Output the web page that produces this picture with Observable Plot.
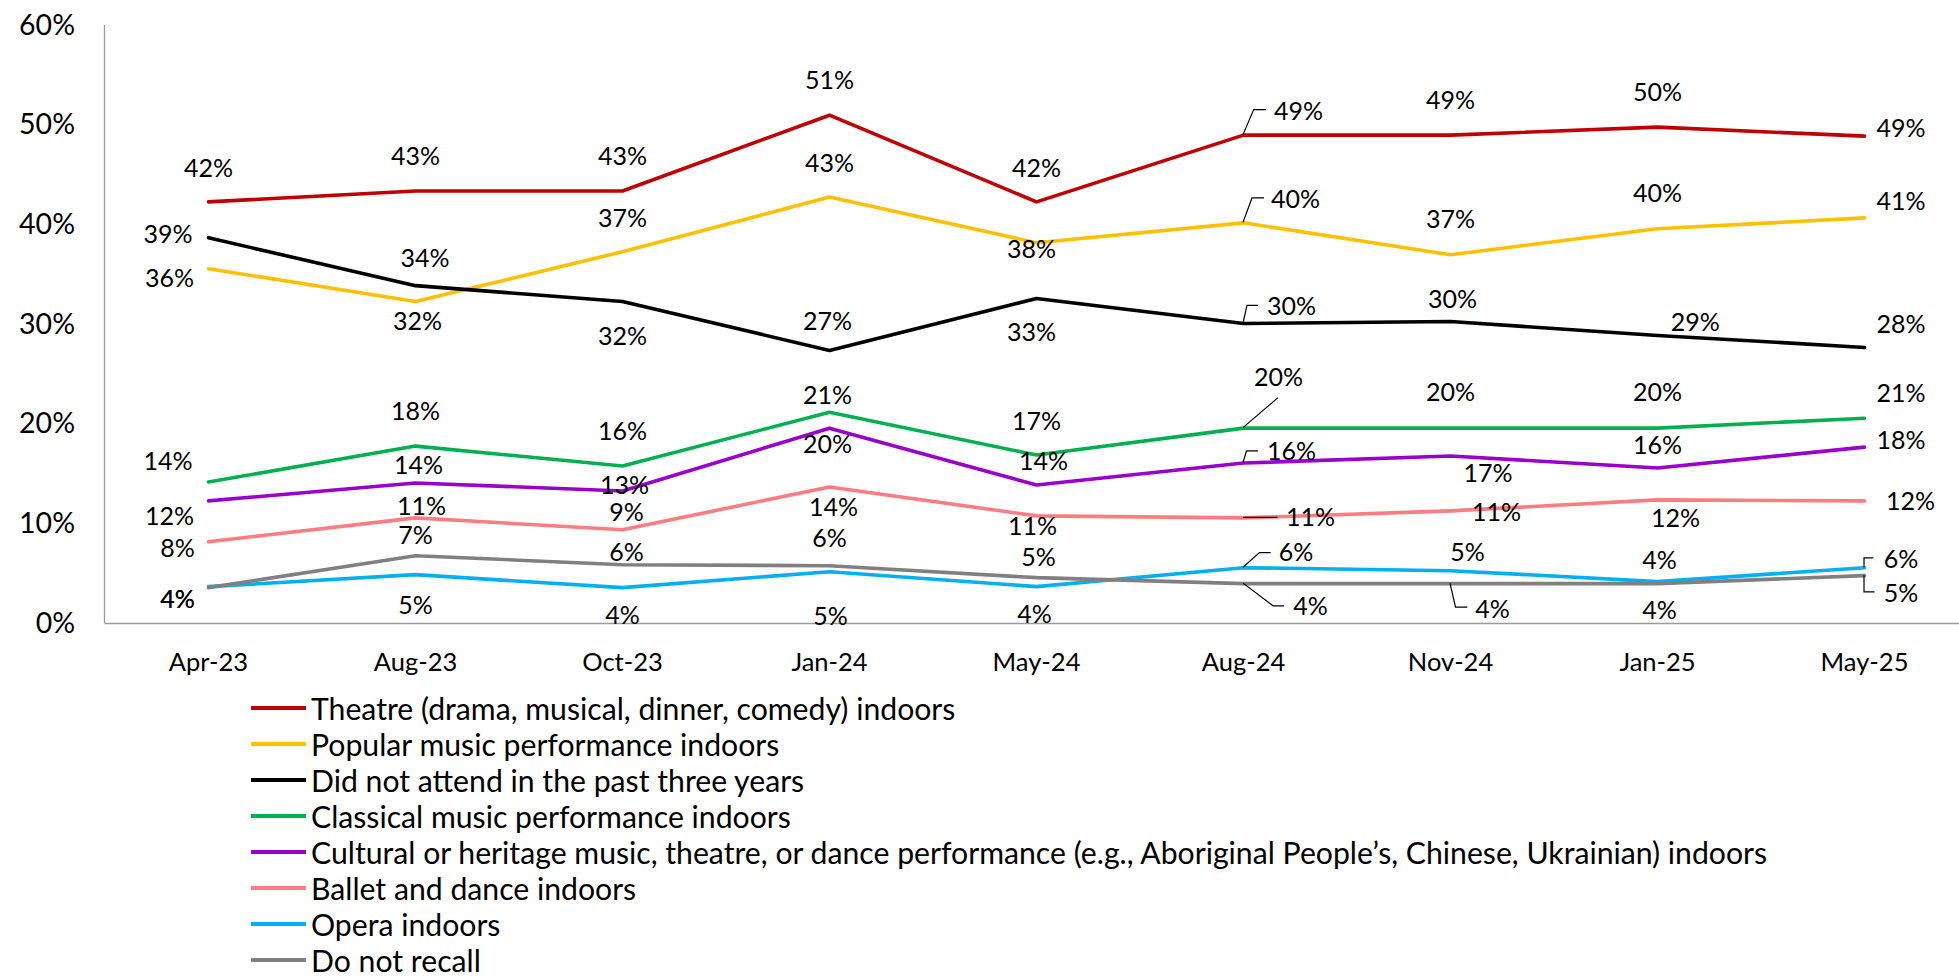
<!DOCTYPE html>
<html><head><meta charset="utf-8">
<script src="https://cdn.jsdelivr.net/npm/d3@7"></script>
<script src="https://cdn.jsdelivr.net/npm/@observablehq/plot@0.6"></script>
<style>
body{margin:0;background:#fff;font-family:Lato,sans-serif;}
#legend{padding-left:251px;}
.row{display:flex;align-items:center;height:36px;font-size:30.2px;color:#000;white-space:nowrap;}
.sw{width:55px;height:3.6px;margin-right:5px;flex:none;}
</style></head><body>
<div id="chart"></div><div id="legend"></div>
<script>
const categories = ["Apr-23","Aug-23","Oct-23","Jan-24","May-24","Aug-24","Nov-24","Jan-25","May-25"];
const seriesNames = [
  "Theatre (drama, musical, dinner, comedy) indoors",
  "Popular music performance indoors",
  "Did not attend in the past three years",
  "Classical music performance indoors",
  "Cultural or heritage music, theatre, or dance performance (e.g., Aboriginal People\u2019s, Chinese, Ukrainian) indoors",
  "Ballet and dance indoors",
  "Opera indoors",
  "Do not recall"
];
const colors = ["#C00000","#FFC000","#000000","#00B050","#9900CC","#FF7C80","#00B0F0","#808080"];
const yTicks = [0,10,20,30,40,50,60];

const theatre   = [42.3,43.4,43.4,51.0,42.3,49.0,49.0,49.8,48.9];
const popular   = [35.6,32.3,37.3,42.8,38.2,40.2,37.0,39.6,40.7];
const didNot    = [38.7,33.9,32.3,27.4,32.6,30.1,30.3,28.9,27.7];
const classical = [14.2,17.8,15.8,21.2,16.9,19.6,19.6,19.6,20.6];
const cultural  = [12.3,14.1,13.3,19.6,13.9,16.1,16.8,15.6,17.7];
const ballet    = [8.2,10.6,9.4,13.7,10.8,10.6,11.3,12.4,12.3];
const opera     = [3.7,4.9,3.6,5.2,3.7,5.6,5.3,4.2,5.6];
const noRecall  = [3.6,6.8,5.9,5.8,4.6,4.0,4.0,4.0,4.8];
const series = [theatre,popular,didNot,classical,cultural,ballet,opera,noRecall];

// label placement offsets (pixels) relative to each point
const labelOffsets = [
  [[0,-33],[0,-34],[0,-34],[0,-34],[0,-33],[55,-23],[0,-34],[0,-34],[36.5,-7]],
  [[-39,10],[2,20],[0,-33],[0,-33],[-5,7],[52,-23],[0,-35],[0,-35],[36.5,-16]],
  [[-40.6,-3],[9.6,-27],[0,35],[-2,-28],[-5,34],[48,-17],[2,-22],[37.7,-12],[36.5,-22]],
  [[-40.6,-20],[0,-34],[0,-34],[-2,-16],[0,-33],[35,-50],[0,-35],[0,-35],[36.5,-24]],
  [[-39,16],[3,-17],[2,-5],[-2,17],[7,-23],[48,-11],[37.5,18],[0,-22],[36.5,-6]],
  [[-31,7],[6,-11],[4,-17],[4,21],[-4,11],[67,0],[46,2],[18,19],[46,1]],
  [[-31,13],[0,31],[0,28],[1,45],[-2,28],[52.6,-15],[17,-18],[2,-21],[36.5,-8]],
  [[-31,12],[0,-20],[4,-12],[0,-27],[2,-20],[67,23],[42,26],[2,27],[36.5,18]]
];
// leader lines: series index, category index, pixel path relative to point
const leaders = [
  {s:0,i:5,path:[[0,0],[10.7,-25],[23,-25]]},
  {s:1,i:5,path:[[0,0],[9,-24.4],[21,-24.4]]},
  {s:2,i:5,path:[[0,0],[4,-17.7],[15,-17.7]]},
  {s:3,i:5,path:[[0,0],[35,-30]]},
  {s:4,i:5,path:[[0,0],[3.5,-11.6],[15,-11.6]]},
  {s:5,i:5,path:[[0,0],[34.4,0]]},
  {s:6,i:5,path:[[0,0],[16.5,-14.6],[27.6,-14.6]]},
  {s:7,i:5,path:[[0,0],[30,22.7],[41,22.7]]},
  {s:7,i:6,path:[[0,0],[5.5,24],[17.3,24]]},
  {s:6,i:8,path:[[0,0],[0,-9.4],[9.3,-9.4]]},
  {s:7,i:8,path:[[0,0],[0,16.7],[10.5,16.7]]}
];

const rows = [];
series.forEach((vals, s) => vals.forEach((v, i) => rows.push({series: seriesNames[s], cat: categories[i], value: v, s, i})));

const labelMarks = rows.map(r => Plot.text([r], {
  x: "cat", y: "value", text: d => Math.round(d.value) + "%",
  dx: labelOffsets[r.s][r.i][0], dy: labelOffsets[r.s][r.i][1],
  fill: "#000", fontSize: 25
}));

const leftAxisLine = (index, scales, values, dim) => {
  return d3.create("svg:line")
    .attr("x1", dim.marginLeft).attr("x2", dim.marginLeft)
    .attr("y1", dim.marginTop).attr("y2", dim.height - dim.marginBottom)
    .attr("stroke", "#9a9a9a").attr("stroke-width", 1.3).node();
};
const leaderMark = (index, scales) => {
  const g = d3.create("svg:g").attr("fill", "none").attr("stroke", "#000").attr("stroke-width", 1.2);
  for (const L of leaders) {
    const px = scales.x(categories[L.i]), py = scales.y(series[L.s][L.i]);
    g.append("path").attr("d", d3.line()(L.path.map(([dx, dy]) => [px + dx, py + dy])));
  }
  return g.node();
};

const chart = Plot.plot({
  width: 1959, height: 690,
  marginLeft: 104.5, marginRight: 0, marginTop: 25, marginBottom: 67,
  style: {fontFamily: "Lato, sans-serif", fontSize: "25px", color: "#000", background: "#fff"},
  x: {type: "point", domain: categories, range: [207.6, 1864.5], padding: 0},
  y: {domain: [0, 60]},
  color: {domain: seriesNames, range: colors},
  marks: [
    Plot.axisX({tickSize: 0, tickPadding: 29, fontSize: 25.5, label: null}),
    Plot.axisY({ticks: yTicks, tickFormat: d => d + "%", tickSize: 0, tickPadding: 30, fontSize: 28.5, label: null}),
    Plot.ruleY([0], {stroke: "#9a9a9a", strokeWidth: 1.3}),
    leftAxisLine,
    Plot.line(rows, {x: "cat", y: "value", z: "series", stroke: "series", strokeWidth: 3.6}),
    leaderMark,
    ...labelMarks
  ]
});
document.getElementById("chart").appendChild(chart);

const legend = document.getElementById("legend");
seriesNames.forEach((name, k) => {
  const row = document.createElement("div");
  row.className = "row";
  const sw = document.createElement("div");
  sw.className = "sw";
  sw.style.background = colors[k];
  const t = document.createElement("span");
  t.textContent = name;
  row.appendChild(sw); row.appendChild(t);
  legend.appendChild(row);
});
</script>
</body></html>
